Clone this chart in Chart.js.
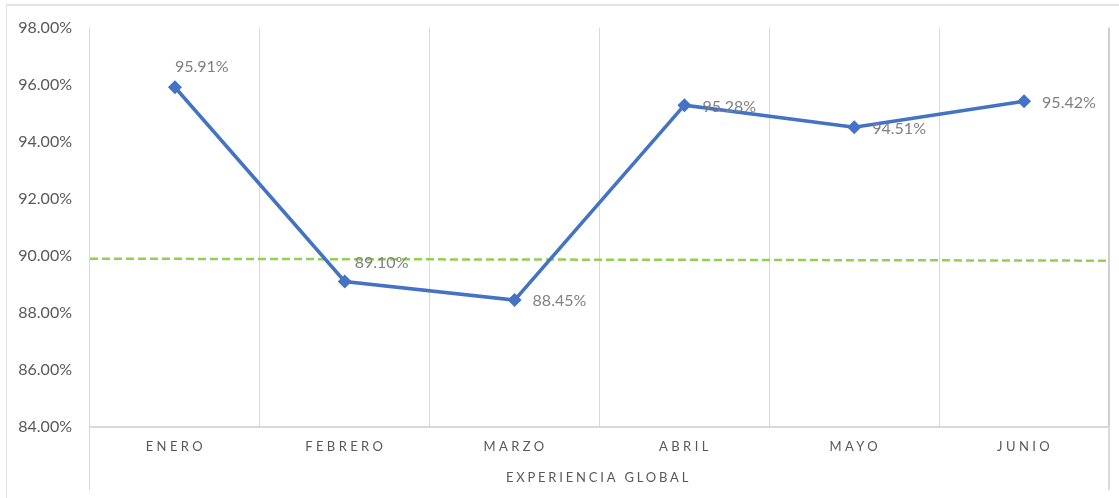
<!DOCTYPE html>
<html>
<head>
<meta charset="utf-8">
<script src="https://cdn.jsdelivr.net/npm/chart.js@4.4.1/dist/chart.umd.min.js"></script>
<style>
    body { margin: 0; background: #fff; }
    #wrap { position: relative; width: 1119px; height: 498px; }
    #frame { position: absolute; left: 6px; top: 4px; right: 0; bottom: 0; border-top: 2px solid #e3e3e3; border-left: 1px solid #e3e3e3; }
    canvas { position: absolute; left: 0; top: 0; }
</style>
</head>
<body>
<div id="wrap">
    <div id="frame"></div>
    <canvas id="experiencia" width="1119" height="498"></canvas>
</div>
<script>
const meses = ['ENERO', 'FEBRERO', 'MARZO', 'ABRIL', 'MAYO', 'JUNIO'];
const experiencia = [95.91, 89.10, 88.45, 95.28, 94.51, 95.42];
const metaX = [0, 1];
const metaY = [89.90, 89.83];
const yTicks = [84, 86, 88, 90, 92, 94, 96, 98];
const tituloX = 'EXPERIENCIA GLOBAL';

// offsets de las etiquetas de datos (dx, dy) respecto al punto
const labelOffsets = [[0, -20], [10, -19], [18, 1], [18, 2], [18, 2], [18, 2]];

const gris = '#d9d9d9';
const textoEje = '#595959';

const etiquetasPlugin = {
    id: 'etiquetas',
    afterDatasetsDraw(chart) {
        const ctx = chart.ctx;
        const meta = chart.getDatasetMeta(0);
        ctx.save();
        ctx.font = '16px Lato';
        ctx.fillStyle = '#808080';
        ctx.textAlign = 'left';
        ctx.textBaseline = 'middle';
        meta.data.forEach(function(pt, i) {
            const off = labelOffsets[i];
            ctx.fillText(experiencia[i].toFixed(2) + '%', pt.x + off[0], pt.y + off[1]);
        });
        ctx.restore();
    },
    afterDraw(chart) {
        const ctx = chart.ctx;
        const x = chart.scales.x;
        ctx.save();
        ctx.fillStyle = textoEje;
        ctx.textAlign = 'center';
        ctx.textBaseline = 'middle';
        ctx.font = '13px Lato';
        ctx.letterSpacing = '3.4px';
        meses.forEach(function(m, i) {
            ctx.fillText(m, x.getPixelForValue(i) + 1, x.top + 20);
        });
        ctx.letterSpacing = '2.8px';
        ctx.fillText(tituloX, (x.left + x.right) / 2 - 1, x.top + 51);
        ctx.restore();
    }
};

const bordeExtremo = function(c) {
    return (c.type === 'scale' || c.index === 0) ? gris : 'rgba(0,0,0,0)';
};

new Chart(document.getElementById('experiencia').getContext('2d'), {
    type: 'line',
    data: {
        labels: meses,
        datasets: [{
            label: 'Experiencia',
            data: experiencia,
            borderColor: '#4472c4',
            backgroundColor: '#4472c4',
            borderWidth: 3.5,
            pointStyle: 'rectRot',
            pointRadius: 7,
            pointBorderWidth: 0,
            tension: 0,
            order: 1
        }, {
            label: 'Meta',
            data: metaX.map(function(v, i) { return { x: v, y: metaY[i] }; }),
            xAxisID: 'x2',
            borderColor: '#92d050',
            borderWidth: 2.5,
            borderDash: [8, 4],
            pointRadius: 0,
            order: 2
        }]
    },
    options: {
        responsive: false,
        animation: false,
        layout: { padding: { top: 27, right: 10, bottom: 0, left: 0 } },
        plugins: {
            legend: { display: false },
            tooltip: { enabled: false }
        },
        scales: {
            x: {
                type: 'category',
                offset: true,
                grid: {
                    offset: true,
                    color: function(c) { return c.type === 'scale' ? '#cfcfcf' : gris; },
                    lineWidth: function(c) { return c.type === 'scale' ? 2 : 1; },
                    drawTicks: true,
                    tickLength: 63,
                    tickColor: bordeExtremo
                },
                border: { display: true, color: gris, width: 2 },
                ticks: { color: 'rgba(0,0,0,0)', font: { family: 'Lato', size: 13 } },
                afterFit: function(scale) { scale.height = 71; }
            },
            x2: {
                type: 'linear',
                display: false,
                min: 0,
                max: 1
            },
            y: {
                min: yTicks[0],
                max: yTicks[yTicks.length - 1],
                grid: { display: false, drawTicks: false },
                border: { display: false },
                afterBuildTicks: function(scale) {
                    scale.ticks = yTicks.map(function(v) { return { value: v }; });
                },
                ticks: {
                    color: textoEje,
                    padding: 18,
                    font: { family: 'Lato', size: 16 },
                    callback: function(v) { return v.toFixed(2) + '%'; }
                },
                afterFit: function(scale) { scale.width = 90; }
            }
        }
    },
    plugins: [etiquetasPlugin]
});
</script>
</body>
</html>
